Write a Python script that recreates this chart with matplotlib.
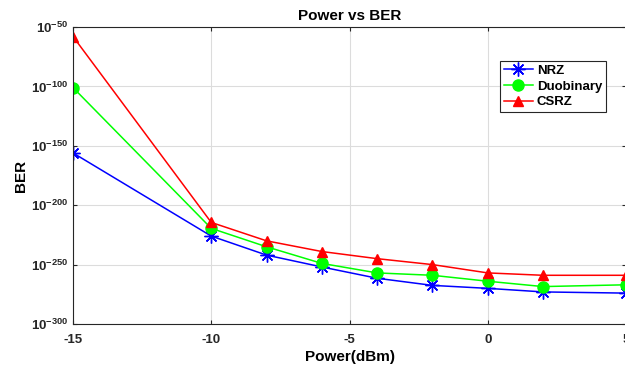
import numpy as np
import matplotlib.pyplot as plt
from matplotlib.ticker import NullLocator

plt.rcParams['font.family'] = ['Liberation Sans', 'DejaVu Sans']
plt.rcParams['font.weight'] = 'bold'
plt.rcParams['axes.unicode_minus'] = False
plt.rcParams['mathtext.fontset'] = 'custom'
plt.rcParams['mathtext.rm'] = 'Liberation Sans:bold'
plt.rcParams['mathtext.it'] = 'Liberation Sans:bold'
plt.rcParams['mathtext.bf'] = 'Liberation Sans:bold'

power = [-15, -10, -8, -6, -4, -2, 0, 2, 5]
# BER exponents (BER = 10**exp)
nrz_exp = [-156, -226, -242, -252, -261.5, -267.5, -270, -273, -274]
duob_exp = [-101, -219.5, -235, -249, -257, -259, -264, -268.5, -267]
csrz_exp = [-58, -214.5, -230, -239, -245, -250, -257, -259, -259]

nrz = 10.0 ** np.array(nrz_exp)
duob = 10.0 ** np.array(duob_exp)
csrz = 10.0 ** np.array(csrz_exp)

ytick_exp = [-300, -250, -200, -150, -100, -50]

fig = plt.figure(figsize=(6.25, 3.67), dpi=100)
ax = fig.add_axes([73 / 625, 1 - 324 / 367, (626 - 73) / 625, (324 - 27) / 367])

ax.plot(power, nrz, color='#0000ff', lw=1.1, marker=(8, 2, 0), ms=10, mew=1,
        mec='#0000ff', label='NRZ')
ax.plot(power, duob, color='#00ff00', lw=1.1, marker='o', ms=8, label='Duobinary')
ax.plot(power, csrz, color='#ff0000', lw=1.1, marker='^', ms=7.5, label='CSRZ')

ax.set_yscale('log')
ax.set_ylim(1e-300, 1e-50)
ax.set_xlim(-15, 5)
ax.set_xticks([-15, -10, -5, 0, 5])
ax.set_yticks([10.0 ** e for e in ytick_exp])
ax.set_yticklabels([f'$10^{{{e}}}$' for e in ytick_exp])
ax.yaxis.set_minor_locator(NullLocator())
ax.tick_params(direction='in', top=True, right=True, labelsize=9.5, colors='#262626', length=3)
ax.tick_params(axis='x', pad=7)
ax.grid(True, color='#dcdcdc', lw=0.8)
for s in ax.spines.values():
    s.set_color('#262626')
    s.set_linewidth(0.8)

ax.set_title('Power vs BER', fontsize=11, fontweight='bold', pad=5)
ax.set_xlabel('Power(dBm)', fontsize=11, fontweight='bold', labelpad=3)
ax.set_ylabel('BER', fontsize=11, fontweight='bold', labelpad=2)

leg = ax.legend(loc='upper right', bbox_to_anchor=(0.976, 0.908), fontsize=9.5,
                fancybox=False, edgecolor='#262626', framealpha=1,
                handlelength=2.2, borderpad=0.3, labelspacing=0.25, handletextpad=0.3)
leg.get_frame().set_linewidth(0.8)

fig.savefig('out.png', dpi=100)
